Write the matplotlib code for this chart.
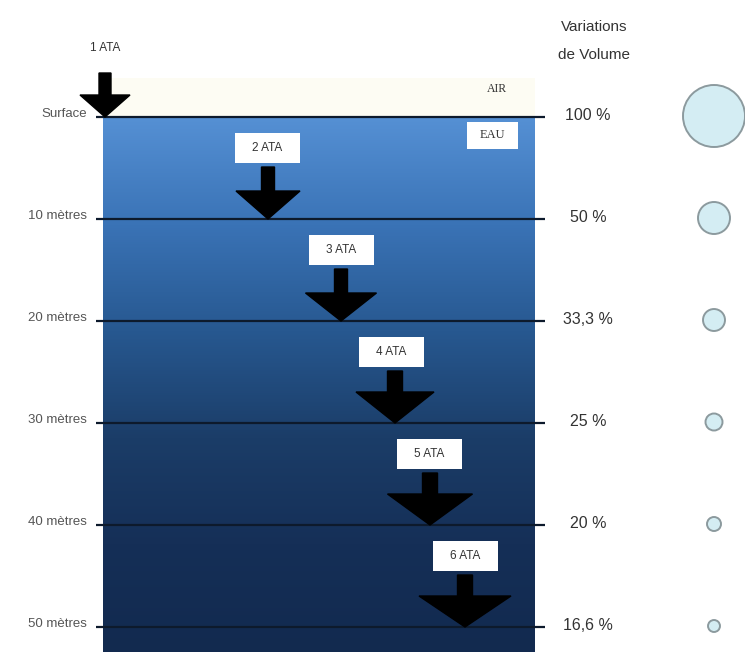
import numpy as np
import matplotlib.pyplot as plt
from matplotlib.colors import LinearSegmentedColormap
from matplotlib.patches import Rectangle, Circle

# données
depth_labels = ["Surface", "10 mètres", "20 mètres", "30 mètres", "40 mètres", "50 mètres"]
depths = [0, 10, 20, 30, 40, 50]
ata = [1, 2, 3, 4, 5, 6]
volume = [100, 50, 33.3, 25, 20, 16.6]
volume_labels = ["100 %", "50 %", "33,3 %", "25 %", "20 %", "16,6 %"]

# mise en page (pixels)
W, H = 745, 652
y0, dy = 117, 10.2          # surface, pixels par mètre
arrow_x = [105, 268, 341, 395, 430, 465]
box_x = [None, 267, 341, 391, 429, 465]
bubble_x = 714

plt.rcParams['font.family'] = ['Liberation Sans', 'DejaVu Sans']
fig = plt.figure(figsize=(W / 100, H / 100), dpi=100)
ax = fig.add_axes([0, 0, 1, 1])

def ypos(d):
    return y0 + d * dy

# air
ax.add_patch(Rectangle((103, 78), 432, y0 - 78, facecolor='#fdfcf3', edgecolor='none', zorder=0))

# eau en dégradé
cmap = LinearSegmentedColormap.from_list('eau', ['#5590d4', '#3a73b6', '#275890', '#1b3d68', '#152f57', '#122a4f'])
grad = np.linspace(0, 1, 256).reshape(-1, 1)
ax.imshow(grad, cmap=cmap, extent=[103, 535, H, y0], aspect='auto', zorder=1)
ax.set_xlim(0, W)
ax.set_ylim(H, 0)
ax.axis('off')

# lignes de profondeur + étiquettes
for d, lab in zip(depths, depth_labels):
    y = ypos(d)
    ax.plot([96, 545], [y, y], color='#0d1a2c', lw=1.6, zorder=3, solid_capstyle='butt')
    ax.text(87, y - 3, lab, ha='right', va='center', fontsize=9.5, color='#555555', zorder=4)

# flèches et boîtes ATA
def arrow(xc, tip, shaft_top, head_h=28, head_w=80, shaft_w=13):
    head_top = tip - head_h
    xs = [xc - shaft_w / 2, xc + shaft_w / 2, xc + shaft_w / 2, xc + head_w / 2, xc,
          xc - head_w / 2, xc - shaft_w / 2]
    ys = [shaft_top, shaft_top, head_top, head_top, tip, head_top, head_top]
    ax.fill(xs, ys, color='black', zorder=5)

for i, (a, d) in enumerate(zip(ata, depths)):
    tip = ypos(d)
    if i == 0:
        arrow(arrow_x[i], tip, 73, head_h=22, head_w=50, shaft_w=12)
        ax.text(arrow_x[i], 48, f"{a} ATA", ha='center', va='center', fontsize=8.5, color='#333333', zorder=6)
        continue
    top = ypos(depths[i - 1])
    by = top + 31
    ax.add_patch(Rectangle((box_x[i] - 32.5, by - 15), 65, 30, facecolor='white', edgecolor='none', zorder=5))
    ax.text(box_x[i], by, f"{a} ATA", ha='center', va='center', fontsize=8.5, color='#333333', zorder=6)
    head_w = 64 + (i - 1) * 7
    arrow(arrow_x[i], tip, by + 19, head_h=28 + (i > 2) * 3, head_w=head_w, shaft_w=13 + (i > 2) * 2)

# AIR / EAU
ax.text(497, 89, "AIR", ha='center', va='center', fontsize=8.5, family='Liberation Serif', color='#333333', zorder=6)
ax.add_patch(Rectangle((467, 122), 51, 27, facecolor='white', edgecolor='none', zorder=5))
ax.text(492, 135.5, "EAU", ha='center', va='center', fontsize=9, family='Liberation Serif', color='#333333', zorder=6)

# variations de volume
ax.text(594, 27, "Variations", ha='center', va='center', fontsize=11, color='#333333')
ax.text(594, 55, "de Volume", ha='center', va='center', fontsize=11, color='#333333')
for d, v, lab in zip(depths, volume, volume_labels):
    y = ypos(d)
    ax.text(588, y - 2, lab, ha='center', va='center', fontsize=11.5, color='#333333')
    r = 30 * v / 100 + 1
    ax.add_patch(Circle((bubble_x, y - 1), r, facecolor='#d4edf3', edgecolor='#8c9a9e', lw=1.4, zorder=4))

fig.savefig('out.png', dpi=100, facecolor='white')
